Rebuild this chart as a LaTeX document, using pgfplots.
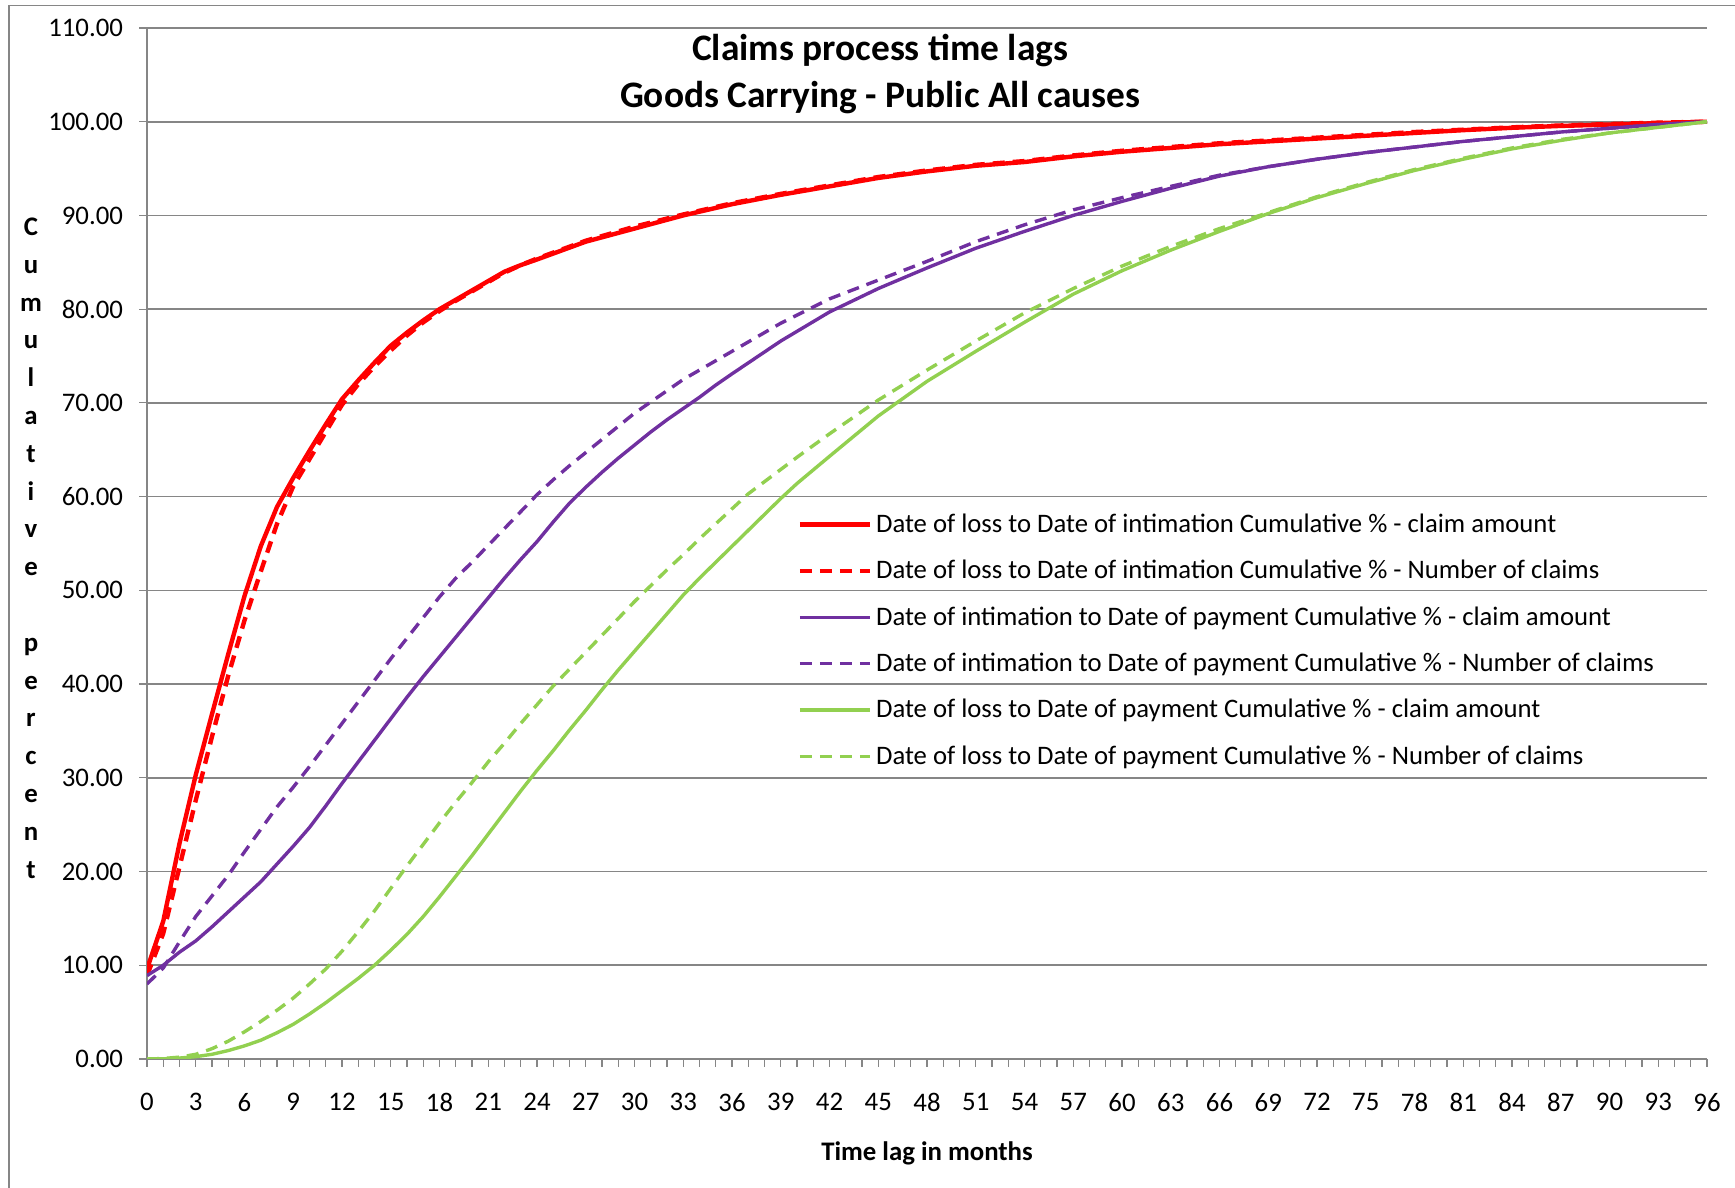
\documentclass[border=0pt]{standalone}
\usepackage{fontspec}
\setmainfont{Carlito}
\usepackage{pgfplots}
\pgfplotsset{compat=1.18}
\definecolor{cred}{HTML}{FF0000}
\definecolor{cpurple}{HTML}{7030A0}
\definecolor{cgreen}{HTML}{92D050}
\definecolor{cgrid}{HTML}{868686}
\begin{document}
\begin{tikzpicture}
\useasboundingbox (0,0) rectangle (867.5pt,594pt);
\draw[cgrid, line width=0.8pt] (4.5pt,-2pt) -- (4.5pt,591.25pt) -- (870pt,591.25pt);
\begin{axis}[
  at={(73.5pt,64.5pt)}, anchor=south west, scale only axis,
  width=780pt, height=515.5pt,
  xmin=0, xmax=96, ymin=0, ymax=110,
  axis lines=left, axis line style={-, cgrid, line width=0.8pt},
  xtick={0,3,...,96}, minor xtick={0,1,...,96},
  ytick={0,10,...,110},
  tick align=outside, major tick length=4pt, minor tick length=4pt,
  tick style={cgrid, line width=0.6pt},
  ymajorgrids, grid style={cgrid, line width=0.8pt},
  /pgf/number format/assume math mode=true,
  ticklabel style={font=\fontsize{13.4}{15}\selectfont},
  yticklabel style={/pgf/number format/fixed, /pgf/number format/fixed zerofill, /pgf/number format/precision=2, xshift=-4.5pt},
  xticklabel style={yshift=-9.6pt},
  title={Claims process time lags\\Goods Carrying - Public All causes},
  title style={at={(axis description cs:0.47,1)}, anchor=center, yshift=-29pt, align=center, font=\bfseries\fontsize{18.7}{23.3}\selectfont},
  xlabel={Time lag in months},
  xlabel style={at={(axis description cs:0.5,0)}, anchor=center, yshift=-47pt, font=\bfseries\fontsize{13.4}{15}\selectfont},
  ylabel={C\\u\\m\\u\\l\\a\\t\\i\\v\\e\\~\\p\\e\\r\\c\\e\\n\\t},
  ylabel style={at={(axis description cs:0,0.4956)}, rotate=-90, anchor=center, xshift=-58pt, align=center, font=\bfseries\fontsize{13.4}{18.9}\selectfont},
  legend cell align=left,
  legend style={draw=none, fill=none, at={(axis description cs:0.413,0.406)}, anchor=west, font=\fontsize{13.35}{15}\selectfont, row sep=8.4pt},
  legend image code/.code={\draw[#1] (0pt,0pt) -- (35pt,0pt);},
]
\addplot[cred, line width=2.2pt] coordinates {(0,9.6)(1,14.7)(2,23.0)(3,30.3)(4,36.8)(5,43.2)(6,49.4)(7,54.7)(8,58.9)(9,62.0)(10,64.9)(11,67.7)(12,70.4)(13,72.4)(14,74.3)(15,76.1)(16,77.5)(17,78.8)(18,80.0)(19,81.0)(20,82.0)(21,83.0)(22,84.0)(23,84.7)(24,85.3)(27,87.2)(30,88.6)(33,90.0)(36,91.2)(39,92.2)(42,93.1)(45,94.0)(48,94.7)(51,95.3)(54,95.7)(57,96.3)(60,96.8)(63,97.2)(66,97.6)(69,97.9)(72,98.2)(75,98.5)(78,98.8)(81,99.1)(84,99.35)(87,99.55)(90,99.7)(93,99.85)(96,100)};
\addlegendentry{Date of loss to Date of intimation Cumulative \% - claim amount}
\addplot[cred, line width=2.2pt, dash pattern=on 6pt off 4pt] coordinates {(0,8.9)(1,13.4)(2,20.5)(3,27.6)(4,34.4)(5,40.9)(6,46.8)(7,52.0)(8,57.1)(9,61.1)(10,64.0)(11,66.9)(12,69.8)(13,72.0)(14,73.9)(15,75.6)(16,77.2)(17,78.6)(18,79.8)(19,80.9)(20,81.9)(21,82.9)(22,83.9)(23,84.7)(24,85.4)(27,87.3)(30,88.8)(33,90.1)(36,91.3)(39,92.3)(42,93.2)(45,94.1)(48,94.8)(51,95.4)(54,95.8)(57,96.4)(60,96.9)(63,97.3)(66,97.7)(69,98.0)(72,98.3)(75,98.6)(78,98.9)(81,99.15)(84,99.4)(87,99.6)(90,99.75)(93,99.9)(96,100)};
\addlegendentry{Date of loss to Date of intimation Cumulative \% - Number of claims}
\addplot[cpurple, line width=1.7pt] coordinates {(0,8.9)(1,10.0)(2,11.4)(3,12.6)(4,14.1)(5,15.7)(6,17.3)(7,18.9)(8,20.8)(9,22.7)(10,24.7)(11,27.0)(12,29.4)(13,31.7)(14,34.0)(15,36.3)(16,38.6)(17,40.8)(18,42.9)(19,45.0)(20,47.1)(21,49.2)(22,51.3)(23,53.3)(24,55.2)(25,57.3)(26,59.3)(27,61.0)(28,62.6)(29,64.1)(30,65.5)(31,66.9)(32,68.2)(33,69.4)(34,70.6)(35,71.9)(36,73.1)(39,76.6)(42,79.7)(45,82.2)(48,84.4)(51,86.5)(54,88.3)(57,90.0)(60,91.5)(63,92.9)(66,94.2)(69,95.2)(72,96.0)(75,96.7)(78,97.3)(81,97.9)(84,98.4)(87,98.9)(90,99.3)(93,99.7)(96,100)};
\addlegendentry{Date of intimation to Date of payment Cumulative \% - claim amount}
\addplot[cpurple, line width=1.7pt, dash pattern=on 6pt off 4pt] coordinates {(0,8.0)(1,9.7)(2,12.5)(3,15.2)(4,17.4)(5,19.6)(6,22.1)(7,24.5)(8,26.9)(9,29.0)(10,31.2)(11,33.5)(12,35.8)(13,38.1)(14,40.4)(15,42.7)(16,44.9)(17,47.1)(18,49.3)(19,51.3)(20,53.0)(21,54.8)(22,56.6)(23,58.4)(24,60.2)(25,61.8)(26,63.3)(27,64.7)(28,66.1)(30,68.9)(33,72.5)(36,75.5)(39,78.5)(42,81.1)(45,83.1)(48,85.1)(51,87.2)(54,89.0)(57,90.6)(60,91.9)(63,93.1)(66,94.3)(69,95.2)(72,96.0)(75,96.7)(78,97.3)(81,97.9)(84,98.4)(87,98.9)(90,99.3)(93,99.7)(96,100)};
\addlegendentry{Date of intimation to Date of payment Cumulative \% - Number of claims}
\addplot[cgreen, line width=1.7pt] coordinates {(0,0)(1,0.02)(2,0.1)(3,0.25)(4,0.5)(5,0.9)(6,1.4)(7,2.0)(8,2.8)(9,3.7)(10,4.8)(11,6.0)(12,7.3)(13,8.6)(14,10.0)(15,11.6)(16,13.3)(17,15.2)(18,17.3)(19,19.5)(20,21.7)(21,24.0)(22,26.3)(23,28.6)(24,30.8)(25,32.9)(26,35.1)(27,37.2)(28,39.4)(29,41.5)(30,43.5)(31,45.5)(32,47.5)(33,49.5)(34,51.3)(35,53.0)(36,54.7)(37,56.4)(38,58.1)(39,59.8)(40,61.4)(42,64.3)(45,68.6)(48,72.3)(51,75.5)(54,78.6)(57,81.6)(60,84.1)(63,86.3)(66,88.3)(69,90.2)(72,91.9)(75,93.4)(78,94.8)(81,96.0)(84,97.1)(87,98.0)(90,98.8)(93,99.4)(96,100)};
\addlegendentry{Date of loss to Date of payment Cumulative \% - claim amount}
\addplot[cgreen, line width=1.7pt, dash pattern=on 6pt off 4pt] coordinates {(0,0)(1,0.05)(2,0.2)(3,0.5)(4,1.1)(5,1.9)(6,2.9)(7,4.0)(8,5.2)(9,6.5)(10,8.0)(11,9.6)(12,11.5)(13,13.6)(14,15.8)(15,18.2)(16,20.6)(17,22.9)(18,25.2)(19,27.4)(20,29.5)(21,31.7)(22,33.7)(23,35.8)(24,37.8)(25,39.8)(26,41.6)(27,43.4)(28,45.2)(29,47.0)(30,48.8)(31,50.5)(32,52.2)(33,53.8)(34,55.5)(35,57.1)(36,58.7)(37,60.3)(38,61.6)(39,62.9)(40,64.2)(42,66.7)(45,70.3)(48,73.5)(51,76.6)(54,79.6)(57,82.2)(60,84.6)(63,86.7)(66,88.6)(69,90.3)(72,92.0)(75,93.5)(78,94.9)(81,96.1)(84,97.2)(87,98.1)(90,98.8)(93,99.4)(96,100)};
\addlegendentry{Date of loss to Date of payment Cumulative \% - Number of claims}
\end{axis}
\end{tikzpicture}
\end{document}
